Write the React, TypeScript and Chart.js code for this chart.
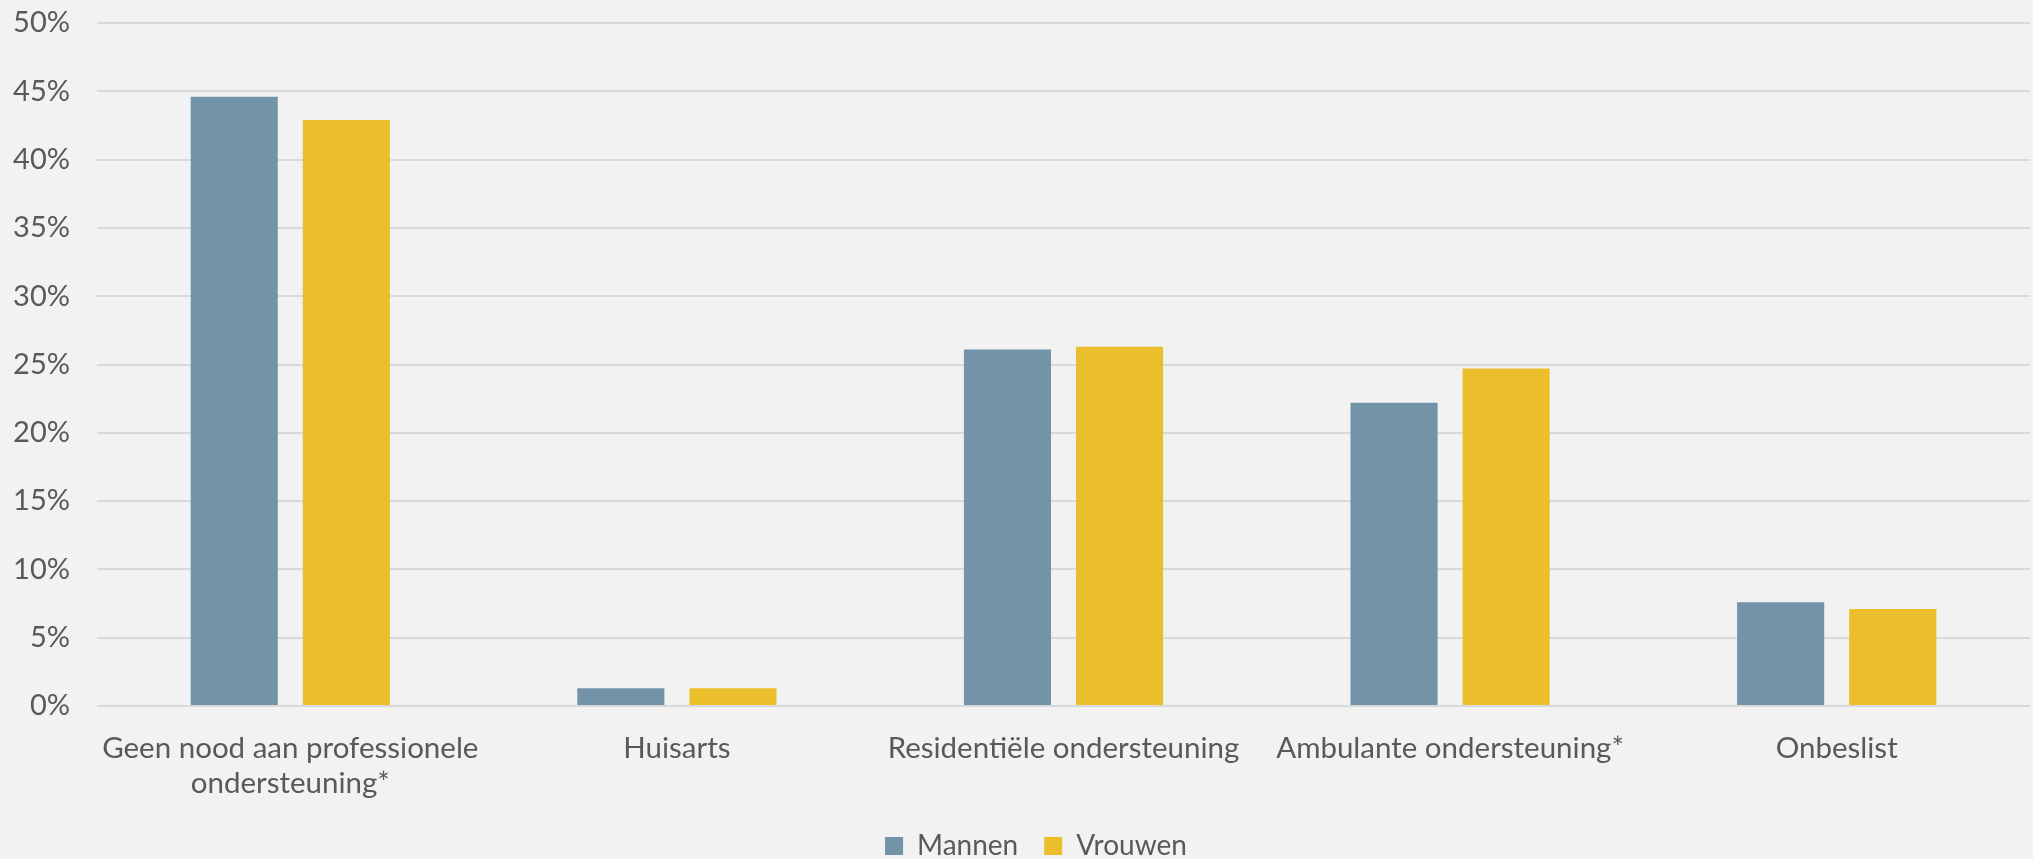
import React, { useEffect, useRef } from "react";
import { Chart, registerables } from "chart.js";

Chart.register(...registerables);

// Categories of support and the share (in %) per gender
const categories: (string | string[])[] = [
  ["Geen nood aan professionele", "ondersteuning*"],
  "Huisarts",
  "Residentiële ondersteuning",
  "Ambulante ondersteuning*",
  "Onbeslist",
];
const mannen = [44.6, 1.3, 26.1, 22.2, 7.6];
const vrouwen = [42.9, 1.3, 26.3, 24.7, 7.1];
const seriesNames = ["Mannen", "Vrouwen"];
const yTicks = [0, 5, 10, 15, 20, 25, 30, 35, 40, 45, 50];

const FONT = "Lato, 'Noto Sans', sans-serif";
const TEXT = "#595959";

// Nudges the centred legend row a little to the right
const legendShift = {
  id: "legendShift",
  afterLayout(chart: any) {
    const legend = chart.legend;
    if (legend) legend.left += 42;
  },
};

export default function App() {
  const canvasRef = useRef<HTMLCanvasElement | null>(null);

  useEffect(() => {
    if (!canvasRef.current) return;
    const chart = new Chart(canvasRef.current, {
      type: "bar",
      data: {
        labels: categories,
        datasets: [
          {
            label: seriesNames[0],
            data: mannen,
            backgroundColor: "#7393a8",
            categoryPercentage: 0.58,
            barPercentage: 0.777,
          },
          {
            label: seriesNames[1],
            data: vrouwen,
            backgroundColor: "#ebbf2b",
            categoryPercentage: 0.58,
            barPercentage: 0.777,
          },
        ],
      },
      plugins: [legendShift],
      options: {
        animation: false,
        responsive: true,
        maintainAspectRatio: false,
        layout: { padding: { left: 0, right: 3, top: 23, bottom: -11 } },
        plugins: {
          legend: {
            position: "bottom",
            labels: {
              color: TEXT,
              font: { family: FONT, size: 28 },
              boxWidth: 18,
              boxHeight: 18,
              padding: 26,
            },
          },
          tooltip: { enabled: false },
        },
        scales: {
          x: {
            grid: { display: false, drawTicks: false },
            border: { display: false },
            ticks: {
              color: TEXT,
              font: { family: FONT, size: 29.5, lineHeight: 1.19 },
              padding: 25,
              maxRotation: 0,
              autoSkip: false,
            },
            afterFit: (axis: any) => {
              axis.paddingLeft = 0;
              axis.paddingRight = 0;
              axis.height = 100;
            },
          },
          y: {
            min: 0,
            max: 50,
            afterBuildTicks: (axis: any) => {
              axis.ticks = yTicks.map((v) => ({ value: v }));
            },
            grid: { color: "#d9d9d9", lineWidth: 2, drawTicks: false },
            border: { display: false },
            ticks: {
              color: TEXT,
              font: { family: FONT, size: 29 },
              padding: 27,
              callback: (v: any) => `${v}%`,
            },
            afterFit: (axis: any) => {
              axis.paddingTop = 0;
              axis.paddingBottom = 0;
              axis.width = 97;
            },
          },
        },
      },
    });
    return () => chart.destroy();
  }, []);

  return (
    <div
      style={{
        position: "fixed",
        left: 0,
        top: 0,
        width: "2033px",
        height: "859px",
        background: "#f2f2f2",
      }}
    >
      <canvas ref={canvasRef} />
    </div>
  );
}
